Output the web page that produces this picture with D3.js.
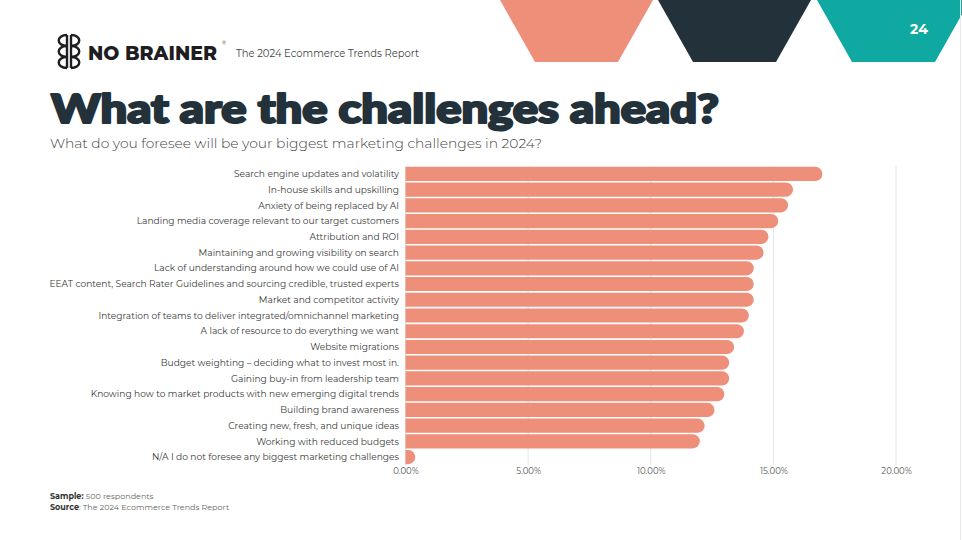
<!DOCTYPE html>
<html>
<head>
<meta charset="utf-8">
<script src="https://cdn.jsdelivr.net/npm/d3@7"></script>
<style>
  html, body { margin: 0; padding: 0; background: #fff; }
  svg { display: block; font-family: "Montserrat", "Open Sans", sans-serif; }
</style>
</head>
<body>
<div id="chart"></div>
<script>
// Challenge categories, top to bottom
const categories = [
    'Search engine updates and volatility',
    'In-house skills and upskilling',
    'Anxiety of being replaced by AI',
    'Landing media coverage relevant to our target customers',
    'Attribution and ROI',
    'Maintaining and growing visibility on search',
    'Lack of understanding around how we could use of AI',
    'EEAT content, Search Rater Guidelines and sourcing credible, trusted experts',
    'Market and competitor activity',
    'Integration of teams to deliver integrated/omnichannel marketing',
    'A lack of resource to do everything we want',
    'Website migrations',
    'Budget weighting \u2013 deciding what to invest most in.',
    'Gaining buy-in from leadership team',
    'Knowing how to market products with new emerging digital trends',
    'Building brand awareness',
    'Creating new, fresh, and unique ideas',
    'Working with reduced budgets',
    'N/A I do not foresee any biggest marketing challenges'
];

// Share of respondents (fraction)
const shares = [0.170, 0.158, 0.156, 0.152, 0.148, 0.146, 0.142, 0.142, 0.142, 0.140,
                0.138, 0.134, 0.132, 0.132, 0.130, 0.126, 0.122, 0.120, 0.004];

const xTicks = [0, 0.05, 0.10, 0.15, 0.20];

// header decoration colours
const shapeColors = ['#ee8f7a', '#22313a', '#10a9a1'];

function drawChart() {
    const width = 962, height = 540;
    const svg = d3.select('#chart').append('svg')
        .attr('width', width)
        .attr('height', height);

    const data = categories.map((c, i) => ({ label: c, value: shares[i] }));

    // --- top decorative trapezoids
    const shapeStarts = [500, 658, 817];
    shapeStarts.forEach((x0, i) => {
        svg.append('path')
            .attr('d', `M${x0},0 L${x0 + 153},0 L${x0 + 118},62 L${x0 + 35},62 Z`)
            .attr('fill', shapeColors[i]);
    });
    svg.append('text')
        .attr('x', 919).attr('y', 34)
        .attr('text-anchor', 'middle')
        .attr('fill', '#fff')
        .style('font-size', '14px')
        .style('font-weight', 700)
        .text('24');

    // --- logo
    const logo = svg.append('g')
        .attr('transform', 'translate(55,35)')
        .attr('fill', 'none')
        .attr('stroke', '#1d1d22')
        .attr('stroke-width', 2.4);
    [0, 11, 22].forEach(y => {
        logo.append('path').attr('d', `M12,${y} C1,${y} 1,${y + 11} 12,${y + 11}`);
        logo.append('path').attr('d', `M16,${y} C27,${y} 27,${y + 11} 16,${y + 11}`);
    });
    logo.append('line').attr('x1', 12).attr('x2', 12).attr('y1', 0).attr('y2', 33);
    logo.append('line').attr('x1', 16).attr('x2', 16).attr('y1', 0).attr('y2', 33);

    svg.append('text')
        .attr('x', 88).attr('y', 60)
        .attr('fill', '#1d1d22')
        .style('font-size', '20px')
        .style('font-weight', 800)
        .attr('textLength', 129)
        .attr('lengthAdjust', 'spacingAndGlyphs')
        .text('NO BRAINER');
    svg.append('text')
        .attr('x', 222).attr('y', 45)
        .attr('fill', '#1d1d22')
        .style('font-size', '5px')
        .text('\u00ae');
    svg.append('text')
        .attr('x', 236).attr('y', 57)
        .attr('fill', '#444')
        .style('font-size', '10.5px')
        .attr('textLength', 183)
        .attr('lengthAdjust', 'spacingAndGlyphs')
        .text('The 2024 Ecommerce Trends Report');

    // --- title & subtitle
    svg.append('text')
        .attr('x', 51).attr('y', 123)
        .attr('fill', '#22313a')
        .attr('stroke', '#22313a')
        .attr('stroke-width', 2.2)
        .attr('stroke-linejoin', 'round')
        .style('font-family', '"Lato", "Roboto", sans-serif')
        .style('font-size', '39px')
        .style('font-weight', 900)
        .attr('textLength', 668)
        .attr('lengthAdjust', 'spacingAndGlyphs')
        .text('What are the challenges ahead?');
    svg.append('text')
        .attr('x', 50).attr('y', 148)
        .attr('fill', '#444')
        .style('font-size', '13.5px')
        .style('font-weight', 300)
        .attr('textLength', 492)
        .attr('lengthAdjust', 'spacingAndGlyphs')
        .text('What do you foresee will be your biggest marketing challenges in 2024?');

    // --- scales
    const xScale = d3.scaleLinear().domain([0, 0.20]).range([405.5, 896]);
    const yScale = d3.scaleBand()
        .domain(categories)
        .range([166.5, 464.5])
        .paddingInner(0.1)
        .paddingOuter(0.02);

    // gridlines
    svg.append('g')
        .selectAll('line')
        .data(xTicks)
        .enter()
        .append('line')
        .attr('x1', d => xScale(d)).attr('x2', d => xScale(d))
        .attr('y1', 166).attr('y2', 465)
        .attr('stroke', '#e4e4e4')
        .attr('stroke-width', 1);

    // x axis
    const xAxis = d3.axisBottom(xScale)
        .tickValues(xTicks)
        .tickFormat(d3.format('.2%'))
        .tickSize(0)
        .tickPadding(0);
    const ax = svg.append('g')
        .attr('transform', 'translate(0,466)')
        .call(xAxis);
    ax.select('.domain').remove();
    ax.selectAll('text')
        .attr('dy', '0.71em')
        .attr('y', 2)
        .attr('fill', '#555')
        .style('font-size', '8.5px')
        .style('font-family', '"Montserrat", "Open Sans", sans-serif');

    // bars with rounded right end
    const barPath = d => {
        const x0 = xScale(0), x1 = xScale(d.value);
        const y0 = yScale(d.label), h = yScale.bandwidth();
        const r = h / 2;
        const xr = Math.max(x0, x1 - r);
        return `M${x0},${y0} L${xr},${y0} A${r},${r} 0 0 1 ${xr},${y0 + h} L${x0},${y0 + h} Z`;
    };
    svg.append('g')
        .selectAll('path')
        .data(data)
        .enter()
        .append('path')
        .attr('d', barPath)
        .attr('fill', '#ee8f7a');

    // category labels
    svg.append('g')
        .selectAll('text')
        .data(data)
        .enter()
        .append('text')
        .attr('x', 399)
        .attr('y', d => yScale(d.label) + yScale.bandwidth() / 2)
        .attr('dy', '0.35em')
        .attr('text-anchor', 'end')
        .attr('fill', '#3a3a3a')
        .style('font-size', '9.1px')
        .text(d => d.label);

    // footer
    const foot = svg.append('g').style('font-size', '8px').attr('fill', '#666');
    const l1 = foot.append('text').attr('x', 50).attr('y', 499);
    l1.append('tspan').style('font-weight', 700).attr('fill', '#333').text('Sample: ');
    l1.append('tspan').text('500 respondents');
    const l2 = foot.append('text').attr('x', 50).attr('y', 510);
    l2.append('tspan').style('font-weight', 700).attr('fill', '#333').text('Source');
    l2.append('tspan').text(': The 2024 Ecommerce Trends Report');

    // faint slide edge
    svg.append('line')
        .attr('x1', 960.5).attr('x2', 960.5).attr('y1', 0).attr('y2', height)
        .attr('stroke', '#e8e8e8');
}

document.addEventListener('DOMContentLoaded', drawChart);
</script>
</body>
</html>
